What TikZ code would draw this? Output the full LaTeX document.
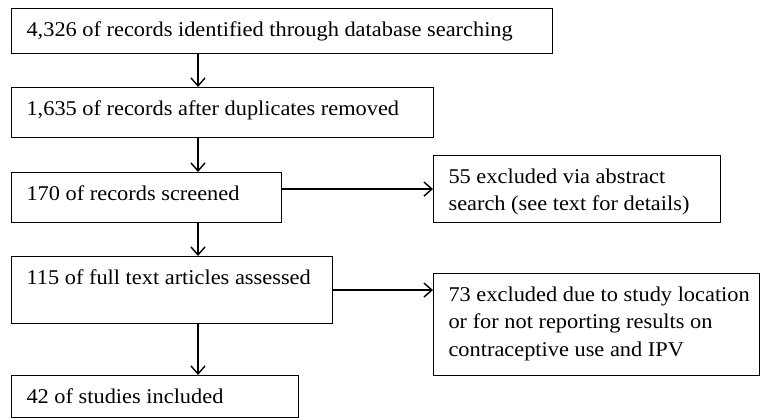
\documentclass[tikz,border=0pt]{standalone}
\usepackage{fontspec}
\setmainfont{Liberation Serif}[FakeStretch=1.065]
\usetikzlibrary{arrows.meta}
\newcommand{\bt}[3]{\parbox[c][#2bp][t]{#1bp}{\raggedright\leftskip=15bp\rule{0pt}{27.8bp}#3}}
\begin{document}
\begin{tikzpicture}[x=1bp,y=-1bp,
  box/.style={draw, line width=1.1bp, inner sep=0pt, anchor=north west,
    font=\fontsize{21bp}{27.5bp}\selectfont},
  arr/.style={line width=1.4bp, -{Straight Barb[length=8bp,width=14bp]}}]
\useasboundingbox (0,0) rectangle (760,418);
\node[box] (b1) at (11,8) {\bt{541}{45}{4,326 of records identified through database searching}};
\node[box] (b2) at (11,87) {\bt{422}{50}{1,635 of records after duplicates removed}};
\node[box] (b3) at (11,172) {\bt{270}{50}{170 of records screened}};
\node[box] (b55) at (433,155) {\bt{287}{67}{55 excluded via abstract\\search (see text for details)}};
\node[box] (b4) at (11,256) {\bt{321}{67}{115 of full text articles assessed}};
\node[box] (b73) at (433,273) {\bt{326}{102}{73 excluded due to study location\\or for not reporting results on\\contraceptive use and IPV}};
\node[box] (b5) at (11,375) {\bt{287}{42}{42 of studies included}};
\coordinate (ax) at (198,0);
\draw[arr] (b1.south -| ax) -- (b2.north -| ax);
\draw[arr] (b2.south -| ax) -- (b3.north -| ax);
\draw[arr] (b3.south -| ax) -- (b4.north -| ax);
\draw[arr] (b4.south -| ax) -- (b5.north -| ax);
\draw[arr] (b3.east |- b55.west) -- (b55.west);
\draw[arr] (b4.east) -- (b4.east -| b73.west);
\end{tikzpicture}
\end{document}
